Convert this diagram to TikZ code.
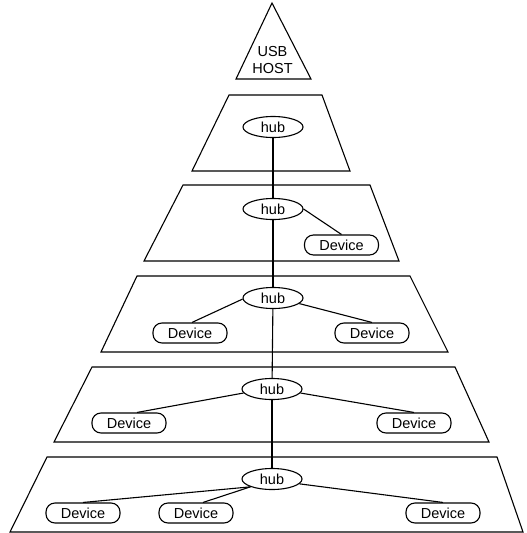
\documentclass[tikz,border=0pt]{standalone}
\usepackage{fontspec}
\setmainfont{Liberation Sans}
\usetikzlibrary{shapes.geometric}
\begin{document}
\begin{tikzpicture}[x=1pt,y=-1pt,line width=1.1pt,
  hubnode/.style={ellipse,draw,fill=white,minimum width=60pt,minimum height=21pt,inner sep=0pt,font=\fontsize{14.5}{15}\selectfont},
  devnode/.style={rectangle,rounded corners=9pt,draw,fill=white,minimum width=74pt,minimum height=20pt,inner sep=0pt,font=\fontsize{14.5}{15}\selectfont},
  layer/.style={draw},
  link/.style={draw}]
\useasboundingbox (0,0) rectangle (527,533);
% host triangle
\draw[layer] (272,3) -- (236,79) -- (311,79) -- cycle;
\node[align=center,font=\fontsize{14.5}{16.5}\selectfont] (host) at (272.5,60) {USB\\HOST};
% layers
\draw[layer] (229,95) -- (322,95) -- (350,171) -- (192,171) -- cycle;
\draw[layer] (183,185) -- (370,185) -- (399,261) -- (144,261) -- cycle;
\draw[layer] (137,276) -- (410,276) -- (448,352) -- (101,352) -- cycle;
\draw[layer] (92,367) -- (455,367) -- (489,442) -- (54,442) -- cycle;
\draw[layer] (47,457) -- (497,457) -- (523,532) -- (10,532) -- cycle;
% hubs
\node[hubnode] (h1) at (273,127) {hub};
\node[hubnode] (h2) at (273,209) {hub};
\node[hubnode] (h3) at (273,298) {hub};
\node[hubnode] (h4) at (272,389) {hub};
\node[hubnode] (h5) at (272,479) {hub};
% devices
\node[devnode] (d2) at (341.5,245) {Device};
\node[devnode] (d3a) at (190,333) {Device};
\node[devnode] (d3b) at (372,333) {Device};
\node[devnode] (d4a) at (129,423) {Device};
\node[devnode] (d4b) at (414,423) {Device};
\node[devnode] (d5a) at (83,513) {Device};
\node[devnode] (d5b) at (196,513) {Device};
\node[devnode] (d5c) at (443,513) {Device};
% trunk
\draw[link] (h1) -- (h2);
\draw[link] (h2) -- (h3);
\draw[link] (h3) -- (h4);
\draw[link] (h4) -- (h5);
% branches
\draw[link] (h2.east) -- (d2.north);
\draw[link] (h3.182) -- ([xshift=2pt]d3a.north);
\draw[link] (h3.-12) -- (d3b.north);
\draw[link] (h4.188) -- ([xshift=8pt]d4a.north);
\draw[link] (h4.-8) -- (d4b.north);
\draw[link] (h5.200) -- (d5a.north);
\draw[link] (h5.200) -- ([xshift=7pt]d5b.north);
\draw[link] (h5.-10) -- (d5c.north);
\end{tikzpicture}
\end{document}
